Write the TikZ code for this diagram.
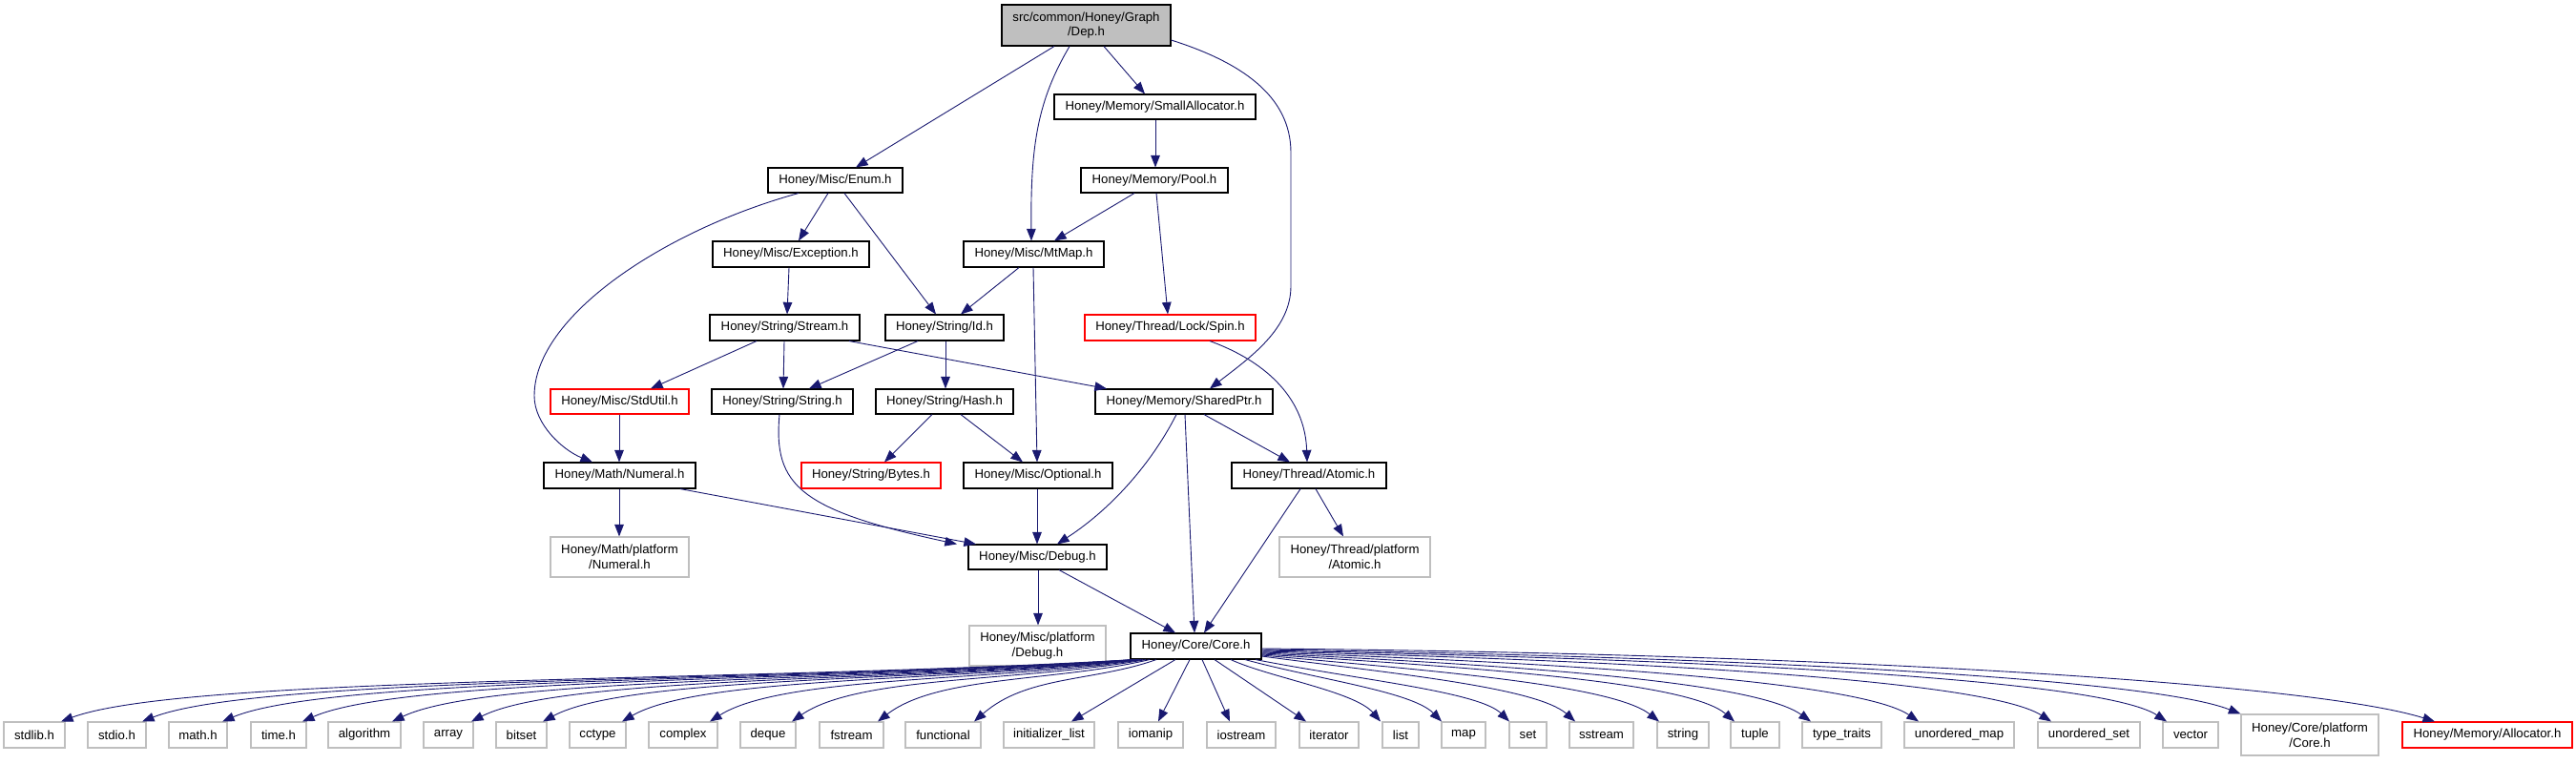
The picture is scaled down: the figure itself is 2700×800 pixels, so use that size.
\documentclass[tikz,border=0pt]{standalone}
\usepackage{fontspec}
\setmainfont{Liberation Sans}
\usetikzlibrary{arrows.meta}
\definecolor{edgeblue}{HTML}{191970}
\definecolor{lightframe}{HTML}{BFBFBF}
\definecolor{rootfill}{HTML}{BFBFBF}
\newcommand\hbx[7]{\node[#1, minimum width={(#5-#3)*0.5pt}, minimum height={(#6-#4)*0.5pt}] (#2) at ({(#3+#5)/2},{(#4+#6)/2}) {#7};}
\tikzset{
  hbox/.style={draw=black, line width=0.55pt, fill=white, inner sep=0pt, align=center, text=black,
    font=\fontsize{6.6}{7.85}\selectfont},
  redbox/.style={hbox, draw=red},
  graybox/.style={hbox, draw=lightframe},
  rootbox/.style={hbox, fill=rootfill},
  link/.style={draw=edgeblue, line width=0.45pt, -{Triangle[length=6.3pt,width=4.8pt]}}
}
\begin{document}
\begin{tikzpicture}[x=0.5pt,y=-0.5pt]
\useasboundingbox (0,0) rectangle (2700,800);
% upper nodes
\hbx{rootbox}{dep}{1050}{5}{1227}{48}{src/common/Honey/Graph\\/Dep.h}
\hbx{hbox}{smallalloc}{1105}{99}{1316}{125}{Honey/Memory/SmallAllocator.h}
\hbx{hbox}{enum}{805}{176}{946}{202}{Honey/Misc/Enum.h}
\hbx{hbox}{pool}{1133}{176}{1287}{202}{Honey/Memory/Pool.h}
\hbx{hbox}{exception}{747}{253}{911}{280}{Honey/Misc/Exception.h}
\hbx{hbox}{mtmap}{1010}{253}{1157}{280}{Honey/Misc/MtMap.h}
\hbx{hbox}{stream}{744}{330}{901}{357}{Honey/String/Stream.h}
\hbx{hbox}{id}{928}{330}{1052}{357}{Honey/String/Id.h}
\hbx{redbox}{spin}{1137}{330}{1316}{357}{Honey/Thread/Lock/Spin.h}
\hbx{redbox}{stdutil}{577}{408}{722}{434}{Honey/Misc/StdUtil.h}
\hbx{hbox}{string}{746}{408}{894}{434}{Honey/String/String.h}
\hbx{hbox}{hash}{918}{408}{1062}{434}{Honey/String/Hash.h}
\hbx{hbox}{sharedptr}{1148}{408}{1334}{434}{Honey/Memory/SharedPtr.h}
\hbx{hbox}{numeral}{570}{485}{729}{512}{Honey/Math/Numeral.h}
\hbx{redbox}{bytes}{840}{485}{986}{512}{Honey/String/Bytes.h}
\hbx{hbox}{optional}{1010}{485}{1166}{512}{Honey/Misc/Optional.h}
\hbx{hbox}{atomic}{1291}{485}{1453}{512}{Honey/Thread/Atomic.h}
\hbx{graybox}{mathplat}{577}{563}{722}{605}{Honey/Math/platform\\/Numeral.h}
\hbx{hbox}{debug}{1015}{571}{1160}{597}{Honey/Misc/Debug.h}
\hbx{graybox}{threadplat}{1341}{563}{1499}{605}{Honey/Thread/platform\\/Atomic.h}
\hbx{graybox}{miscplat}{1016}{656}{1159}{698}{Honey/Misc/platform\\/Debug.h}
\hbx{hbox}{core}{1185}{664}{1322}{691}{Honey/Core/Core.h}
% bottom row
\hbx{graybox}{stdlib}{4}{757}{68}{784}{stdlib.h}
\hbx{graybox}{stdio}{92}{757}{153}{784}{stdio.h}
\hbx{graybox}{math}{177}{757}{238}{784}{math.h}
\hbx{graybox}{time}{263}{757}{321}{784}{time.h}
\hbx{graybox}{algorithm}{344}{757}{420}{784}{algorithm}
\hbx{graybox}{array}{444}{757}{496}{784}{array}
\hbx{graybox}{bitset}{520}{757}{573}{784}{bitset}
\hbx{graybox}{cctype}{597}{757}{656}{784}{cctype}
\hbx{graybox}{complex}{680}{757}{752}{784}{complex}
\hbx{graybox}{deque}{776}{757}{834}{784}{deque}
\hbx{graybox}{fstream}{859}{757}{926}{784}{fstream}
\hbx{graybox}{functional}{949}{757}{1028}{784}{functional}
\hbx{graybox}{initlist}{1052}{757}{1147}{784}{initializer\_list}
\hbx{graybox}{iomanip}{1172}{757}{1240}{784}{iomanip}
\hbx{graybox}{iostream}{1265}{757}{1337}{784}{iostream}
\hbx{graybox}{iterator}{1362}{757}{1424}{784}{iterator}
\hbx{graybox}{list}{1449}{757}{1487}{784}{list}
\hbx{graybox}{map}{1511}{757}{1557}{784}{map}
\hbx{graybox}{set}{1582}{757}{1621}{784}{set}
\hbx{graybox}{sstream}{1645}{757}{1712}{784}{sstream}
\hbx{graybox}{stringstd}{1737}{757}{1791}{784}{string}
\hbx{graybox}{tuple}{1814}{757}{1865}{784}{tuple}
\hbx{graybox}{typetraits}{1889}{757}{1972}{784}{type\_traits}
\hbx{graybox}{umap}{1996}{757}{2111}{784}{unordered\_map}
\hbx{graybox}{uset}{2136}{757}{2243}{784}{unordered\_set}
\hbx{graybox}{vector}{2267}{757}{2325}{784}{vector}
\hbx{graybox}{coreplat}{2349}{749}{2493}{792}{Honey/Core/platform\\/Core.h}
\hbx{redbox}{allocator}{2518}{757}{2696}{784}{Honey/Memory/Allocator.h}
% upper edges
\draw[link] (1105,0 |- dep.south) -- (897,0 |- enum.north);
\draw[link] (1121,0 |- dep.south) .. controls (1088,105) and (1080,150) .. (1081,0 |- mtmap.north);
\draw[link] (1157,0 |- dep.south) -- (1200,0 |- smallalloc.north);
\draw[link] (dep.east |- 0,42) .. controls (1300,65) and (1353,100) .. (1353,160) -- (1353,300)
  .. controls (1353,345) and (1310,375) .. (1268,0 |- sharedptr.north);
\draw[link] (1211,0 |- smallalloc.south) -- (1211,0 |- pool.north);
\draw[link] (1189,0 |- pool.south) -- (1105,0 |- mtmap.north);
\draw[link] (1212,0 |- pool.south) -- (1224,0 |- spin.north);
\draw[link] (837,0 |- enum.south) .. controls (700,240) and (560,330) .. (560,415)
  .. controls (560,445) and (590,472) .. (621,0 |- numeral.north);
\draw[link] (868,0 |- enum.south) -- (837,0 |- exception.north);
\draw[link] (885,0 |- enum.south) -- (981,0 |- id.north);
\draw[link] (1068,0 |- mtmap.south) -- (1007,0 |- id.north);
\draw[link] (1083,0 |- mtmap.south) -- (1087,0 |- optional.north);
\draw[link] (827,0 |- exception.south) -- (825,0 |- stream.north);
\draw[link] (793,0 |- stream.south) -- (682,0 |- stdutil.north);
\draw[link] (822,0 |- stream.south) -- (821,0 |- string.north);
\draw[link] (890,0 |- stream.south) -- (1160,0 |- sharedptr.north);
\draw[link] (962,0 |- id.south) -- (848,0 |- string.north);
\draw[link] (991,0 |- id.south) -- (991,0 |- hash.north);
\draw[link] (1268,0 |- spin.south) .. controls (1330,380) and (1368,420) .. (1370,0 |- atomic.north);
\draw[link] (1233,0 |- sharedptr.south) .. controls (1210,480) and (1170,530) .. (1108,0 |- debug.north);
\draw[link] (1242,0 |- sharedptr.south) -- (1252,0 |- core.north);
\draw[link] (1262,0 |- sharedptr.south) -- (1352,0 |- atomic.north);
\draw[link] (649,0 |- stdutil.south) -- (649,0 |- numeral.north);
\draw[link] (817,0 |- string.south) .. controls (810,510) and (840,535) .. (1003,0 |- debug.north);
\draw[link] (977,0 |- hash.south) -- (927,0 |- bytes.north);
\draw[link] (1007,0 |- hash.south) -- (1072,0 |- optional.north);
\draw[link] (649,0 |- numeral.south) -- (649,0 |- mathplat.north);
\draw[link] (713,0 |- numeral.south) -- (1023,0 |- debug.north);
\draw[link] (1087,0 |- optional.south) -- (1087,0 |- debug.north);
\draw[link] (1088,0 |- debug.south) -- (1088,0 |- miscplat.north);
\draw[link] (1110,0 |- debug.south) -- (1232,0 |- core.north);
\draw[link] (1363,0 |- atomic.south) -- (1262,0 |- core.north);
\draw[link] (1379,0 |- atomic.south) -- (1408,0 |- threadplat.north);
% core to left leaves
\foreach \n/\tx/\sx in {stdlib/64/1188, stdio/149/1189, math/233/1190, time/317/1191,
    algorithm/411/1192, array/494/1193, bitset/569/1194, cctype/652/1196,
    complex/744/1198, deque/830/1201, fstream/920/1205, functional/1021/1212}{
  \pgfmathsetmacro\myca{\sx-0.35*(\sx-\tx)}
  \pgfmathsetmacro\mycb{\tx+0.08*(\sx-\tx)+40}
  \draw[link] (\sx,0 |- core.south) .. controls (\myca,715) and (\mycb,708) .. (\tx,0 |- \n.north);
}
% core to middle leaves
\draw[link] (1232,0 |- core.south) -- (1123,0 |- initlist.north);
\draw[link] (1247,0 |- core.south) -- (1214,0 |- iomanip.north);
\draw[link] (1260,0 |- core.south) -- (1289,0 |- iostream.north);
\draw[link] (1273,0 |- core.south) -- (1369,0 |- iterator.north);
\draw[link] (1290,0 |- core.south) .. controls (1330,710) and (1420,725) .. (1447,0 |- list.north);
\draw[link] (1305,0 |- core.south) .. controls (1380,712) and (1480,725) .. (1511,0 |- map.north);
\draw[link] (1316,0 |- core.south) .. controls (1420,712) and (1550,725) .. (1582,0 |- set.north);
% core to right leaves
\draw[link] (core.east |- 0,688) .. controls (1450,705) and (1610,720) .. (1651,0 |- sstream.north);
\draw[link] (core.east |- 0,687) .. controls (1500,703) and (1690,718) .. (1739,0 |- stringstd.north);
\draw[link] (core.east |- 0,686) .. controls (1550,700) and (1770,715) .. (1818,0 |- tuple.north);
\draw[link] (core.east |- 0,685) .. controls (1600,698) and (1840,715) .. (1898,0 |- typetraits.north);
\draw[link] (core.east |- 0,684) .. controls (1650,695) and (1950,715) .. (2011,0 |- umap.north);
\draw[link] (core.east |- 0,683) .. controls (1700,692) and (2080,712) .. (2150,0 |- uset.north);
\draw[link] (core.east |- 0,682) .. controls (1750,690) and (2200,710) .. (2271,0 |- vector.north);
\draw[link] (core.east |- 0,681) .. controls (1800,688) and (2250,710) .. (coreplat.north west);
\draw[link] (core.east |- 0,680) .. controls (1900,685) and (2420,715) .. (2552,0 |- allocator.north);
\end{tikzpicture}
\end{document}
